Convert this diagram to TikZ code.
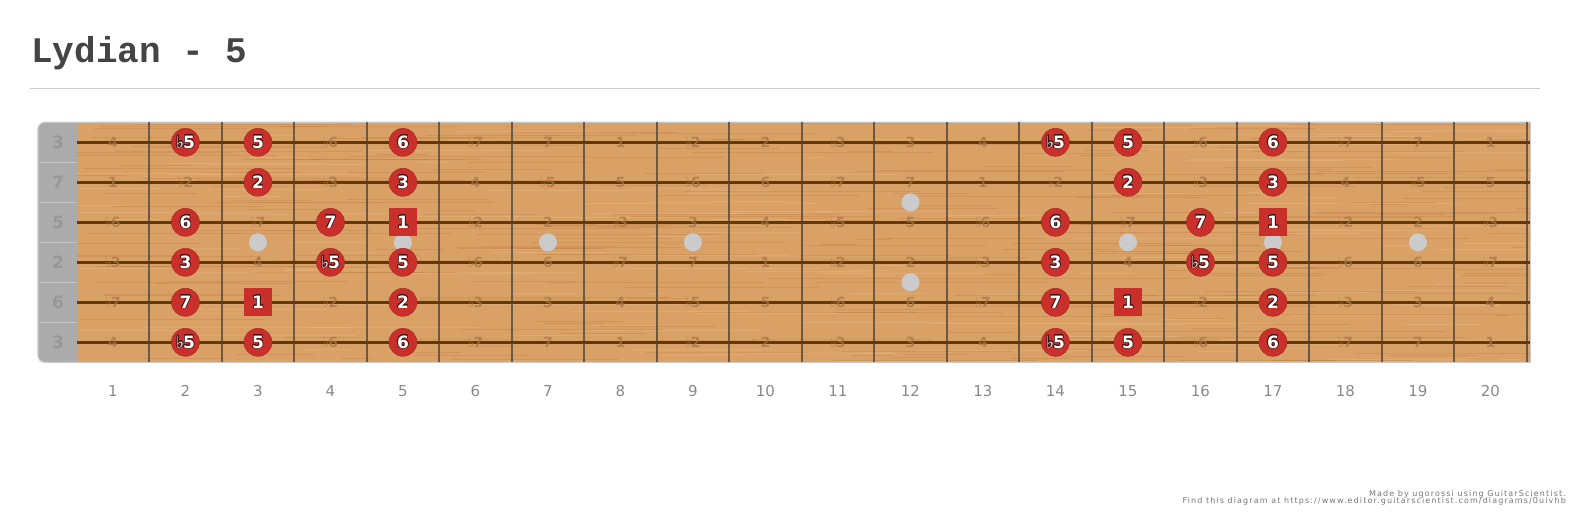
\documentclass[tikz,border=0pt]{standalone}
\usepackage{fontspec}
\setmainfont{DejaVu Sans}
\newfontfamily\titlefont{Liberation Mono}
\newfontfamily\creditfont[LetterSpace=14]{DejaVu Sans}
\usepackage{contour}
\contourlength{0.7pt}
\usetikzlibrary{positioning}

\definecolor{wood}{HTML}{DAA166}
\definecolor{woodgrain}{HTML}{B06A30}
\definecolor{woodlight}{HTML}{EBC48E}
\definecolor{ghostcol}{HTML}{A47444}
\definecolor{stringcol}{HTML}{5E3A14}
\definecolor{fretcol}{HTML}{5A4C3E}
\definecolor{nutgray}{HTML}{ABABAB}
\definecolor{nutlabel}{HTML}{979797}
\definecolor{boardedge}{HTML}{C8C8C8}
\definecolor{notered}{HTML}{C9302C}
\definecolor{noteline}{HTML}{3A1512}
\definecolor{inlaygray}{HTML}{CBCBCB}
\definecolor{titlegray}{HTML}{444444}
\definecolor{rulegray}{HTML}{CCCCCC}
\definecolor{numgray}{HTML}{8A8A8A}
\definecolor{creditgray}{HTML}{777777}

% interval names by semitone above the root
\newcommand{\flt}{♭\kern-1pt}
\newcommand{\ivname}[1]{\ifcase#1 1\or\flt2\or 2\or\flt3\or 3\or 4\or\flt5\or 5\or\flt6\or 6\or\flt7\or 7\fi}

\begin{document}
\begin{tikzpicture}[
        x=1pt, y=-1pt,
        note/.style={circle, draw=notered!85!black, line width=.5pt, fill=notered, minimum size=28pt, inner sep=0pt, text=white, font=\bfseries\fontsize{17}{17}\selectfont},
        rootnote/.style={note, rectangle, draw=none},
        ghost/.style={inner sep=0pt, text=ghostcol, opacity=.7, font=\bfseries\fontsize{14}{14}\selectfont},
        inlay/.style={circle, fill=inlaygray, minimum size=18pt, inner sep=0pt},
        openlbl/.style={inner sep=0pt, text=nutlabel, font=\bfseries\fontsize{17}{17}\selectfont},
        fretnum/.style={inner sep=0pt, anchor=base, text=numgray, font=\fontsize{15}{15}\selectfont},
        credit/.style={inner sep=0pt, anchor=base east, text=creditgray, font=\creditfont\fontsize{8}{8}\selectfont},
        fretwire/.style={fretcol, line width=2pt, opacity=.85},
        guitarstring/.style={stringcol, line width=3.4pt}
        ]
        \useasboundingbox (0,0) rectangle (1573,519);
        \fill[white] (0,0) rectangle (1573,519);

        % title
        \node[anchor=base west, inner sep=0pt, text=titlegray, font=\titlefont\bfseries\fontsize{36}{36}\selectfont] (title) at (31,63) {Lydian - 5};
        \draw[rulegray, line width=1pt] (30,88.3) -- (1540,88.3);

        % board
        \fill[nutgray, rounded corners=7pt] (38,122.3) rectangle (95,362.3);
        \fill[wood] (76.7,122.3) rectangle (1530,362.3);
        \begin{scope}
            \clip (76.7,122.3) rectangle (1530,362.3);
            \pgfmathsetseed{42}
            \foreach \i in {1,...,260} {
                \pgfmathsetmacro\gy{122+rnd*241}
                \pgfmathsetmacro\gx{40+rnd*1500}
                \pgfmathsetmacro\gl{30+rnd*220}
                \draw[woodgrain, opacity=.22, line width=.8pt] (\gx,\gy) -- ++(\gl,0);
            }
            \foreach \i in {1,...,160} {
                \pgfmathsetmacro\gy{122+rnd*241}
                \pgfmathsetmacro\gx{40+rnd*1500}
                \pgfmathsetmacro\gl{30+rnd*180}
                \draw[woodlight, opacity=.3, line width=.9pt] (\gx,\gy) -- ++(\gl,0);
            }
        \end{scope}
        \begin{scope}
            \clip (0,100) rectangle (1530.8,380);
            \draw[boardedge, line width=1.3pt, rounded corners=7pt] (38,122.3) rectangle (1560,362.3);
        \end{scope}
        \draw[boardedge, line width=1.3pt] (1530.2,122.3) -- (1530.2,362.3);
        \foreach \k in {1,...,5}
            \draw[nutgray!70!white, line width=.6pt] (38.6,122.3+40*\k) -- (76.7,122.3+40*\k);

        % frets and strings
        \foreach \f in {1,...,20}
            \draw[fretwire] (76.7+72.5*\f,122.3) -- (76.7+72.5*\f,362.3);
        \foreach \s in {1,...,6}
            \draw[guitarstring] (76.7,102.3+40*\s) -- (1530,102.3+40*\s);

        % inlays
        \foreach \f in {3,5,7,9,15,17,19}
            \node[inlay] (dot-\f) at (76.7+72.5*\f-36.25,242.3) {};
        \node[inlay] (dot-12a) at (76.7+72.5*11.5,202.3) {};
        \node[inlay] (dot-12b) at (76.7+72.5*11.5,282.3) {};

        % open strings and notes
        \foreach \s/\o/\lbl in {1/4/3,2/11/7,3/7/5,4/2/2,5/9/6,6/4/3} {
            \node[openlbl] (open-\s) at (58,102.3+40*\s) {\lbl};
            \foreach \f in {1,...,20} {
                \pgfmathtruncatemacro\iv{mod(\o+\f,12)}
                \pgfmathtruncatemacro\hit{(\f>1) && (mod(\f-2,12)<4) && (\iv==0 || \iv==2 || \iv==4 || \iv==6 || \iv==7 || \iv==9 || \iv==11)}
                \ifnum\hit=1
                    \ifnum\iv=0
                        \node[rootnote] (note-\s-\f) at (76.7+72.5*\f-36.25,102.3+40*\s) {\contour{noteline}{1}};
                    \else
                        \node[note] (note-\s-\f) at (76.7+72.5*\f-36.25,102.3+40*\s) {\contour{noteline}{\ivname{\iv}}};
                    \fi
                \else
                    \node[ghost] (iv-\s-\f) at (76.7+72.5*\f-36.25,102.3+40*\s) {\ivname{\iv}};
                \fi
            }
        }

        % fret numbers
        \foreach \f in {1,...,20}
            \node[fretnum] (fnum-\f) at (76.7+72.5*\f-36.25,396) {\f};

        % credits
        \node[credit] (credit-a) at (1566,496) {Made by ugorossi using GuitarScientist.};
        \node[credit, below=1.2pt of credit-a.base east, anchor=north east] (credit-b) {Find this diagram at https://www.editor.guitarscientist.com/diagrams/0uivhb};
    \end{tikzpicture}
\end{document}
